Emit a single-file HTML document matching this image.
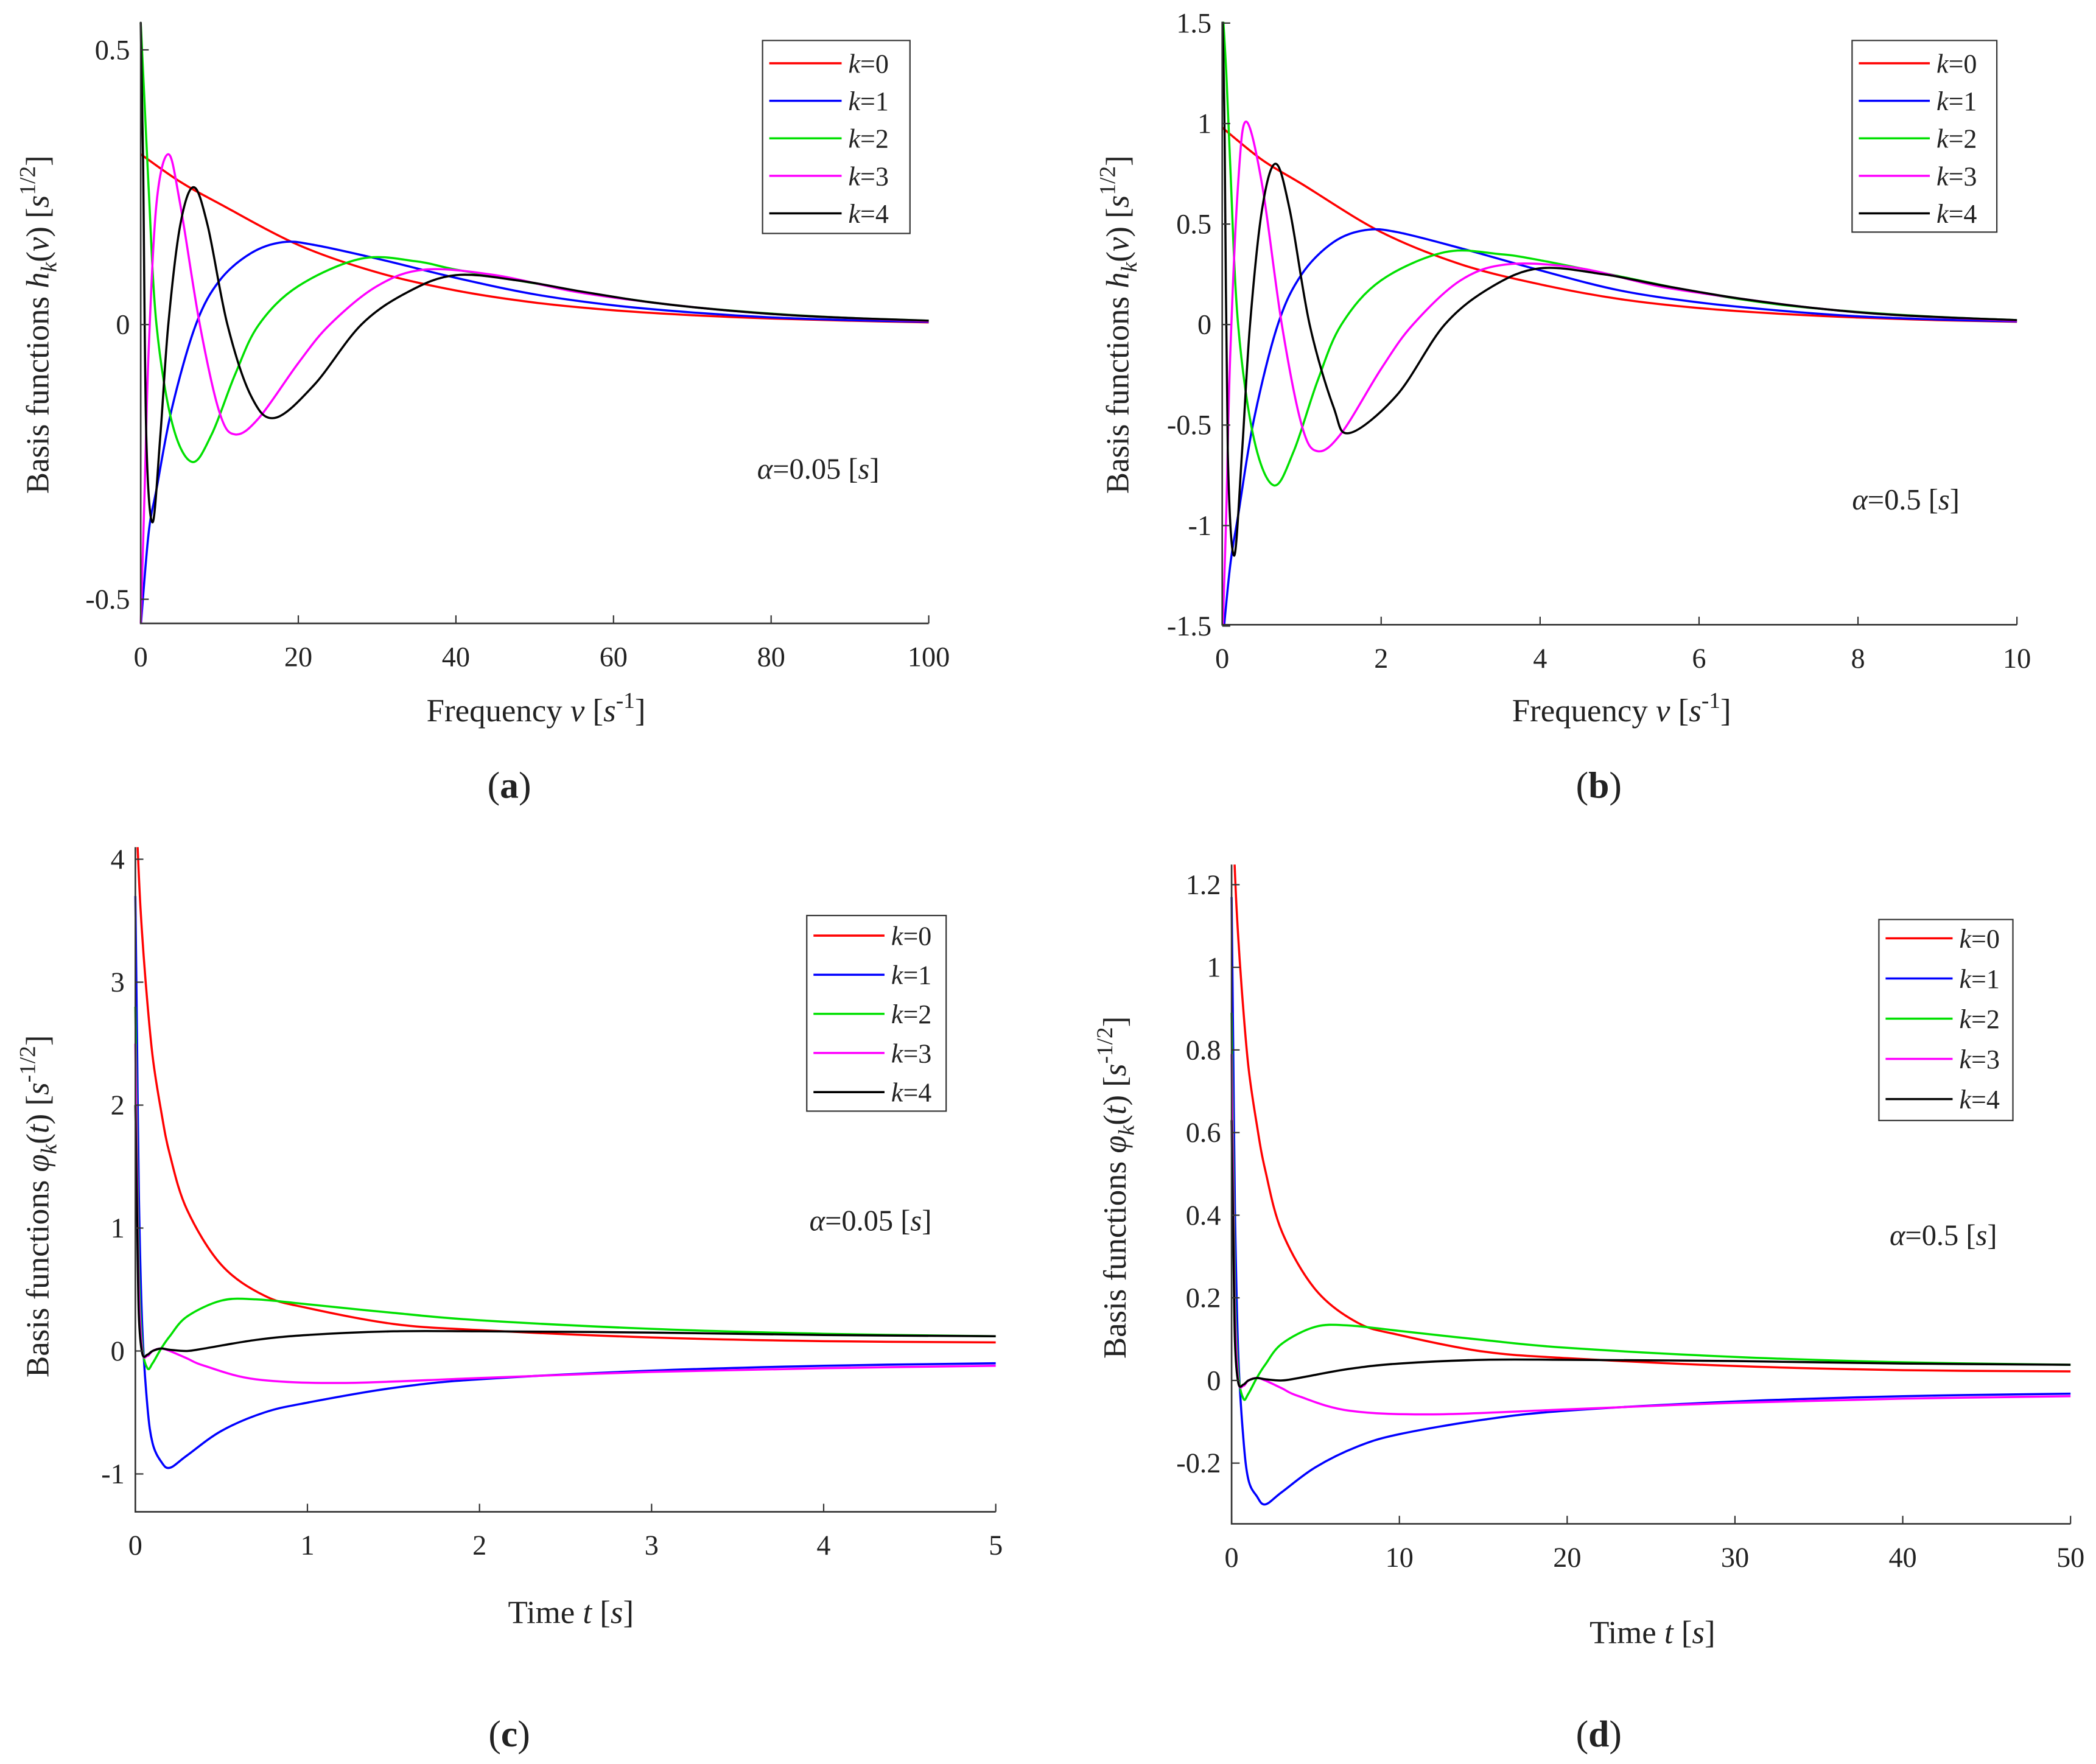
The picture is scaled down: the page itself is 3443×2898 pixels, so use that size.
<!DOCTYPE html>
<html><head><meta charset="utf-8"><style>
html,body{margin:0;padding:0;background:#fff}
svg{display:block}
text{font-family:"Liberation Serif","DejaVu Serif",serif;fill:#222}
</style></head><body>
<svg id="fig" width="3443" height="2898" viewBox="0 0 1564 1316" xmlns="http://www.w3.org/2000/svg"></svg>
<script>
// ---- Panel (a) data: h_k(v), alpha=0.05 ----
const aX0=[0,5,10,20,30,40,50,60,70,80,90,100];
const aY0=[0.31,0.26,0.22,0.145,0.095,0.062,0.04,0.026,0.017,0.011,0.007,0.004];
const aX1=[0,1,2,4,7,10,14,18,22,30,40,50,60,70,80,90,100];
const aY1=[-0.55,-0.38,-0.3,-0.15,0,0.08,0.13,0.15,0.145,0.12,0.085,0.055,0.035,0.022,0.013,0.008,0.005];
const aX2=[0,0.5,1,2,4,6.5,9,12,15,20,28,35,40,50,60,70,80,90,100];
const aY2=[0.55,0.4,0.25,0,-0.18,-0.25,-0.2,-0.09,0,0.07,0.12,0.115,0.1,0.075,0.05,0.032,0.02,0.012,0.007];
const aX3=[0,0.5,1,2,3.5,5,7.5,10,12,15,20,24,30,36,45,55,65,75,85,100];
const aY3=[-0.55,-0.3,-0.05,0.22,0.31,0.22,0,-0.16,-0.2,-0.17,-0.07,0,0.07,0.1,0.09,0.06,0.04,0.025,0.015,0.006];
const aX4=[0,0.3,0.7,1.5,2.5,3.5,5,6.7,8.5,11,14,17,22,28,34,40,48,56,65,75,85,100];
const aY4=[0.55,0.3,-0.2,-0.36,-0.2,0,0.18,0.25,0.18,0,-0.13,-0.17,-0.11,0,0.06,0.09,0.08,0.06,0.04,0.025,0.015,0.007];
// ---- Panel (b) data: alpha=0.5 ----
const bX0=[0,0.5,1,2,3,4,5,6,7,8,9,10];
const bY0=[0.98,0.82,0.7,0.46,0.3,0.2,0.127,0.082,0.054,0.035,0.022,0.014];
const bX1=[0,0.1,0.2,0.4,0.7,1,1.4,1.8,2.2,3,4,5,6,7,8,9,10];
const bY1=[-1.6,-1.2,-0.95,-0.47,0,0.25,0.41,0.47,0.46,0.38,0.27,0.17,0.11,0.07,0.041,0.025,0.016];
const bX2=[0,0.05,0.1,0.2,0.4,0.65,0.9,1.2,1.5,2,2.8,3.5,4,5,6,7,8,9,10];
const bY2=[1.6,1.26,0.8,0,-0.57,-0.8,-0.63,-0.28,0,0.22,0.36,0.35,0.32,0.24,0.16,0.1,0.063,0.038,0.022];
const bX3=[0,0.05,0.1,0.2,0.3,0.5,0.75,1,1.2,1.5,2,2.4,3,3.6,4.5,5.5,6.5,7.5,8.5,10];
const bY3=[-1.6,-0.95,-0.16,0.7,1.01,0.7,0,-0.5,-0.63,-0.54,-0.22,0,0.22,0.3,0.28,0.19,0.13,0.08,0.047,0.019];
const bX4=[0,0.03,0.07,0.15,0.25,0.35,0.5,0.67,0.85,1.1,1.4,1.6,2.2,2.8,3.4,4,4.8,5.6,6.5,7.5,8.5,10];
const bY4=[1.6,0.95,-0.63,-1.15,-0.63,0,0.57,0.8,0.57,0,-0.41,-0.54,-0.35,0,0.19,0.28,0.25,0.19,0.13,0.08,0.047,0.022];
// ---- Panel (c) data: phi_k(t), alpha=0.05 ----
const cX0=[0.01,0.03,0.06,0.1,0.15,0.2,0.3,0.5,0.75,1,1.5,2,3,4,5];
const cY0=[4.2,3.6,3.0,2.4,1.95,1.6,1.15,0.7,0.45,0.35,0.22,0.17,0.11,0.08,0.07];
const cX1=[0,0.01,0.02,0.04,0.07,0.1,0.15,0.2,0.3,0.5,0.75,1,1.5,2,3,4,5];
const cY1=[3.7,2.5,1.3,0.2,-0.45,-0.75,-0.9,-0.95,-0.85,-0.65,-0.5,-0.42,-0.3,-0.23,-0.16,-0.12,-0.1];
const cX2=[0,0.01,0.02,0.04,0.07,0.1,0.15,0.2,0.3,0.5,0.7,1,1.5,2,3,4,5];
const cY2=[2.8,1.7,0.7,0.05,-0.14,-0.1,0.02,0.12,0.28,0.41,0.42,0.38,0.31,0.25,0.18,0.14,0.12];
const cX3=[0,0.01,0.02,0.04,0.07,0.1,0.15,0.2,0.3,0.4,0.7,1.2,2,3,4,5];
const cY3=[2.5,1.4,0.5,0.0,-0.04,0.0,0.02,0.0,-0.06,-0.12,-0.23,-0.26,-0.22,-0.17,-0.14,-0.12];
const cX4=[0,0.01,0.02,0.04,0.07,0.1,0.15,0.2,0.3,0.4,0.7,1,1.5,2,3,4,5];
const cY4=[2.0,1.1,0.3,-0.02,-0.03,0.0,0.02,0.01,0.0,0.02,0.09,0.13,0.16,0.16,0.15,0.13,0.12];
// ---- Panel (d) data: alpha=0.5 ----
const dX0=[0.1,0.3,0.6,1,1.5,2,3,5,7.5,10,15,20,30,40,50];
const dY0=[1.33,1.14,0.95,0.76,0.62,0.51,0.36,0.22,0.14,0.11,0.07,0.054,0.035,0.025,0.022];
const dX1=[0,0.1,0.2,0.4,0.7,1,1.5,2,3,5,7.5,10,15,20,30,40,50];
const dY1=[1.17,0.79,0.41,0.06,-0.14,-0.24,-0.28,-0.3,-0.27,-0.21,-0.16,-0.13,-0.095,-0.073,-0.051,-0.038,-0.032];
const dX2=[0,0.1,0.2,0.4,0.7,1,1.5,2,3,5,7,10,15,20,30,40,50];
const dY2=[0.89,0.54,0.22,0.02,-0.044,-0.032,0.006,0.038,0.089,0.13,0.133,0.12,0.098,0.079,0.057,0.044,0.038];
const dX3=[0,0.1,0.2,0.4,0.7,1,1.5,2,3,4,7,12,20,30,40,50];
const dY3=[0.79,0.44,0.16,0.0,-0.013,0.0,0.006,0.0,-0.019,-0.038,-0.073,-0.082,-0.07,-0.054,-0.044,-0.038];
const dX4=[0,0.1,0.2,0.4,0.7,1,1.5,2,3,4,7,10,15,20,30,40,50];
const dY4=[0.63,0.35,0.095,-0.006,-0.01,0.0,0.006,0.003,0.0,0.006,0.028,0.041,0.05,0.05,0.047,0.041,0.038];

const colors=['#ff0000','#0000ff','#00e000','#ff00ff','#000000'];
const NS='http://www.w3.org/2000/svg';
const svg=document.getElementById('fig');
function mk(tag,attrs,parent){const e=document.createElementNS(NS,tag);for(const k in attrs)e.setAttribute(k,attrs[k]);(parent||svg).appendChild(e);return e;}

function spline(pts){
  let d='M'+pts[0][0].toFixed(2)+','+pts[0][1].toFixed(2);
  for(let i=0;i<pts.length-1;i++){
    const p0=pts[Math.max(0,i-1)],p1=pts[i],p2=pts[i+1],p3=pts[Math.min(pts.length-1,i+2)];
    const c1=[p1[0]+(p2[0]-p0[0])/6,p1[1]+(p2[1]-p0[1])/6];
    const c2=[p2[0]-(p3[0]-p1[0])/6,p2[1]-(p3[1]-p1[1])/6];
    d+=' C'+c1[0].toFixed(2)+','+c1[1].toFixed(2)+' '+c2[0].toFixed(2)+','+c2[1].toFixed(2)+' '+p2[0].toFixed(2)+','+p2[1].toFixed(2);
  }
  return d;
}

function panel(cfg){
  const g=mk('g',{});
  
  
  const sx=v=>cfg.px0+(v-cfg.x0)/(cfg.x1-cfg.x0)*(cfg.px1-cfg.px0);
  const sy=v=>cfg.py0+(v-cfg.y0)/(cfg.y1-cfg.y0)*(cfg.py1-cfg.py0);
  const top=cfg.top,bot=cfg.bot,left=cfg.px0,right=cfg.px1;
  const cid='clip-'+cfg.name;
  const cp=mk('clipPath',{id:cid},g);
  mk('rect',{x:left-2,y:top,width:right-left+4,height:bot-top},cp);
  const sg=mk('g',{'clip-path':'url(#'+cid+')'},g);
  cfg.series.forEach((s,i)=>{
    const pts=s[0].map((x,j)=>[sx(x),sy(s[1][j])]);
    const p=mk('path',{d:spline(pts),fill:'none',stroke:colors[i],'stroke-width':1.6},sg);
    
    
  });
  const ax=mk('path',{d:`M${left},${top} L${left},${bot} L${right},${bot}`,fill:'none',stroke:'#333','stroke-width':1.2},g);
  
  
  cfg.xt.forEach(v=>{
    const x=sx(v);
    mk('line',{x1:x,y1:bot,x2:x,y2:bot-6,stroke:'#333','stroke-width':1},g);
    const t=mk('text',{x:x,y:bot+32,'text-anchor':'middle','font-size':21},g);
    t.textContent=String(v);
    
    
  });
  cfg.yt.forEach(v=>{
    const y=sy(v);
    mk('line',{x1:left,y1:y,x2:left+6,y2:y,stroke:'#333','stroke-width':1},g);
    const t=mk('text',{x:left-8,y:y+7,'text-anchor':'end','font-size':21},g);
    t.textContent=String(v);
    
    
  });
  const L=cfg.leg;
  const lg=mk('g',{},g);
  
  
  mk('rect',{x:L.x,y:L.y,width:L.w,height:L.h,fill:'#fff',stroke:'#333','stroke-width':1},lg);
  for(let i=0;i<5;i++){
    const y=L.y+L.r0+i*L.dy;
    mk('line',{x1:L.x+5,y1:y,x2:L.x+L.lw,y2:y,stroke:colors[i],'stroke-width':1.6},lg);
    const t=mk('text',{x:L.x+L.lw+5,y:y+7,'font-size':20},lg);
    t.innerHTML='<tspan font-style="italic">k</tspan>='+i;
    
    
  }
  const a=mk('text',{x:cfg.al[0],y:cfg.al[1],'font-size':22},g);
  a.innerHTML='<tspan font-style="italic">α</tspan>='+cfg.alpha+' [<tspan font-style="italic">s</tspan>]';
  
  
  const xl=mk('text',{x:cfg.xl[0],y:cfg.xl[1],'text-anchor':'middle','font-size':24},g);
  xl.innerHTML=cfg.xlab;
  
  
  const yl=mk('text',{x:0,y:0,'text-anchor':'middle','font-size':24,transform:`translate(${cfg.yl[0]},${cfg.yl[1]}) rotate(-90)`},g);
  yl.innerHTML=cfg.ylab;
  
  
  const pl=mk('text',{x:cfg.pl[0],y:cfg.pl[1],'text-anchor':'middle','font-size':28},g);
  pl.innerHTML='(<tspan font-weight="bold">'+cfg.letter+'</tspan>)';
  
  
}

const hLab='Basis functions <tspan font-style="italic">h</tspan><tspan font-style="italic" font-size="17" dy="6">k</tspan><tspan dy="-6">(</tspan><tspan font-style="italic">v</tspan>) [<tspan font-style="italic">s</tspan><tspan font-size="17" dy="-10">1/2</tspan><tspan dy="10">]</tspan>';
const pLab='Basis functions  <tspan font-style="italic">φ</tspan><tspan font-style="italic" font-size="17" dy="6">k</tspan><tspan dy="-6">(</tspan><tspan font-style="italic">t</tspan>) [<tspan font-style="italic">s</tspan><tspan font-size="17" dy="-10">-1/2</tspan><tspan dy="10">]</tspan>';
const fLab='Frequency  <tspan font-style="italic">v</tspan> [<tspan font-style="italic">s</tspan><tspan font-size="17" dy="-10">-1</tspan><tspan dy="10">]</tspan>';
const tLab='Time  <tspan font-style="italic">t</tspan> [<tspan font-style="italic">s</tspan>]';

panel({name:'panel-a',letter:'a',x0:0,x1:100,px0:105,px1:693,y0:0,y1:0.5,py0:242,py1:37,top:16,bot:465,
  xt:[0,20,40,60,80,100],yt:[-0.5,0,0.5],
  series:[[aX0,aY0],[aX1,aY1],[aX2,aY2],[aX3,aY3],[aX4,aY4]],
  leg:{x:569,y:30,w:110,h:144,r0:17,dy:28,lw:59},al:[565,357],alpha:'0.05',
  xl:[400,538],xlab:fLab,yl:[36,242],ylab:hLab,pl:[380,595]});
panel({name:'panel-b',letter:'b',x0:0,x1:10,px0:912,px1:1505,y0:0,y1:1,py0:242,py1:92,top:16,bot:466,
  xt:[0,2,4,6,8,10],yt:[-1.5,-1,-0.5,0,0.5,1,1.5],
  series:[[bX0,bY0],[bX1,bY1],[bX2,bY2],[bX3,bY3],[bX4,bY4]],
  leg:{x:1382,y:30,w:108,h:143,r0:17,dy:28,lw:58},al:[1382,380],alpha:'0.5',
  xl:[1210,538],xlab:fLab,yl:[842,242],ylab:hLab,pl:[1193,595]});
panel({name:'panel-c',letter:'c',x0:0,x1:5,px0:101,px1:743,y0:0,y1:4,py0:1008,py1:641,top:632,bot:1128,
  xt:[0,1,2,3,4,5],yt:[-1,0,1,2,3,4],
  series:[[cX0,cY0],[cX1,cY1],[cX2,cY2],[cX3,cY3],[cX4,cY4]],
  leg:{x:602,y:683,w:104,h:146,r0:15,dy:29.2,lw:58},al:[604,918],alpha:'0.05',
  xl:[426,1211],xlab:tLab,yl:[36,900],ylab:pLab,pl:[380,1303]});
panel({name:'panel-d',letter:'d',x0:0,x1:50,px0:919,px1:1545,y0:0,y1:1.2,py0:1030,py1:660,top:645,bot:1137,
  xt:[0,10,20,30,40,50],yt:[-0.2,0,0.2,0.4,0.6,0.8,1,1.2],
  series:[[dX0,dY0],[dX1,dY1],[dX2,dY2],[dX3,dY3],[dX4,dY4]],
  leg:{x:1402,y:686,w:100,h:150,r0:14,dy:30,lw:55},al:[1410,929],alpha:'0.5',
  xl:[1233,1226],xlab:tLab,yl:[840,886],ylab:pLab,pl:[1193,1303]});
</script>
</body></html>
